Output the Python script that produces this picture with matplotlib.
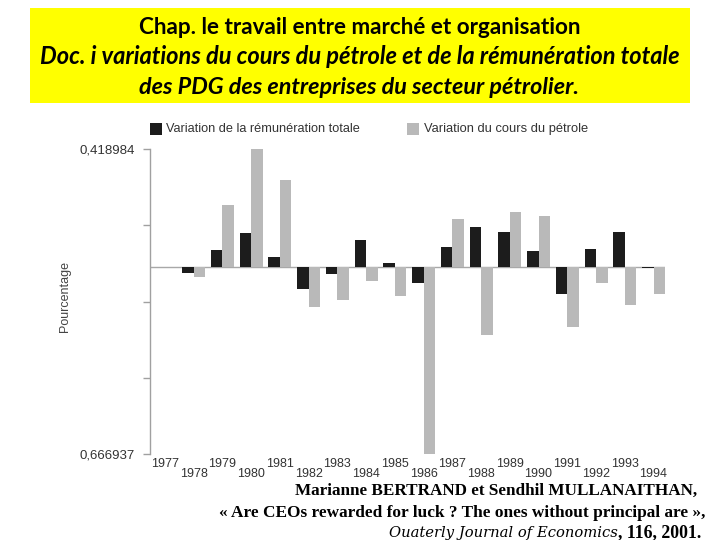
import matplotlib
matplotlib.use("Agg")
import matplotlib.pyplot as plt
from matplotlib.patches import Rectangle

years = [str(y) for y in range(1977, 1995)]
remuneration = [None, -0.024, 0.059, 0.119, 0.034, -0.079, -0.025, 0.095, 0.014, -0.057,
                0.070, 0.140, 0.124, 0.056, -0.099, 0.062, 0.125, -0.004]
petrole = [None, -0.036, 0.219, 0.419, 0.308, -0.144, -0.120, -0.050, -0.105, -0.667,
           0.171, -0.245, 0.193, 0.179, -0.216, -0.058, -0.137, -0.099]
ymax_label = "0,418984"
ymin_label = "0,666937"
ymax_val = 0.418984
ymin_val = -0.666937

W, H = 720, 540
fig = plt.figure(figsize=(7.2, 5.4), dpi=100)
fig.patch.set_facecolor("white")

def fx(px):
    return px / W

def fy(py):
    return 1 - py / H

# Title box
fig.patches.append(Rectangle((fx(30), fy(103)), fx(690) - fx(30), fy(8) - fy(103),
                             transform=fig.transFigure, facecolor="#ffff00",
                             edgecolor="none", zorder=0))
title_font = ["Lato", "DejaVu Sans"]
fig.text(fx(360), fy(27), "Chap. le travail entre marché et organisation",
         ha="center", va="center", fontsize=16.2, family=title_font, weight="bold", color="black")
fig.text(fx(360), fy(57), "Doc. i variations du cours du pétrole et de la rémunération totale",
         ha="center", va="center", fontsize=17.0, family=title_font, weight="bold",
         style="italic", color="black")
fig.text(fx(359), fy(87), "des PDG des entreprises du secteur pétrolier.",
         ha="center", va="center", fontsize=16.8, family=title_font, weight="bold",
         style="italic", color="black")

# Axes
ax_l, ax_r, ax_t, ax_b = 150, 665, 149, 454
ax = fig.add_axes([fx(ax_l), fy(ax_b), fx(ax_r) - fx(ax_l), fy(ax_t) - fy(ax_b)])
ax.set_xlim(-0.52, 17.4)
ax.set_ylim(ymin_val, ymax_val)

narrow = ["Liberation Sans", "DejaVu Sans"]
c_black = "#1c1c1c"
c_gray = "#b9b9b9"
bw = 0.4
for i in range(len(years)):
    if remuneration[i] is not None:
        ax.bar(i - 0.2, remuneration[i], width=bw, color=c_black, zorder=3)
    if petrole[i] is not None:
        ax.bar(i + 0.2, petrole[i], width=bw, color=c_gray, zorder=3)

ax.axhline(0, color="#a8a8a8", lw=1.0, zorder=2)
for s in ["top", "right", "bottom"]:
    ax.spines[s].set_visible(False)
ax.spines["left"].set_color("#a0a0a0")
ax.spines["left"].set_linewidth(1.0)

step = (ymax_val - ymin_val) / 4
ticks = [ymin_val + k * step for k in range(5)]
ax.set_yticks(ticks)
ax.set_yticklabels([ymin_label, "", "", "", ymax_label], family=narrow, fontsize=9.5, color="#333333")
ax.tick_params(axis="y", length=5, color="#a0a0a0", width=1.0, pad=6)
ax.set_xticks([])

trans = ax.get_xaxis_transform()
for i, y in enumerate(years):
    off = -10 if i % 2 == 0 else -20
    ax.annotate(y, xy=(i, 0), xycoords=trans, xytext=(0, off), textcoords="offset pixels",
                ha="center", va="center", fontsize=9, family=narrow, color="#333333",
                annotation_clip=False)

fig.text(fx(65), fy(297), "Pourcentage", rotation=90, ha="center", va="center",
         fontsize=9, family=narrow, color="#444444")

# Legend
fig.patches.append(Rectangle((fx(150), fy(135)), fx(12), 12 / H, transform=fig.transFigure,
                             facecolor=c_black, edgecolor="none"))
fig.text(fx(166), fy(129), "Variation de la rémunération totale", ha="left", va="center",
         fontsize=9.2, family=narrow, color="#333333")
fig.patches.append(Rectangle((fx(407), fy(135)), fx(12), 12 / H, transform=fig.transFigure,
                             facecolor=c_gray, edgecolor="none"))
fig.text(fx(424), fy(129), "Variation du cours du pétrole", ha="left", va="center",
         fontsize=9.3, family=narrow, color="#333333")

# Citation
serif = ["Liberation Serif", "DejaVu Serif"]
fig.text(fx(697), fy(491), "Marianne BERTRAND et Sendhil MULLANAITHAN,", ha="right", va="center",
         fontsize=12.3, family=serif, weight="bold", color="black")
fig.text(fx(705), fy(513), "« Are CEOs rewarded for luck ? The ones without principal are »,",
         ha="right", va="center", fontsize=12.45, family=serif, weight="bold", color="black")
fig.text(fx(618), fy(533), "Ouaterly Journal of Economics", ha="right", va="center",
         fontsize=10.6, family=["DejaVu Serif"], style="italic", weight="light", color="black")
fig.text(fx(618), fy(533), ", 116, 2001.", ha="left", va="center",
         fontsize=12.8, family=serif, weight="bold", color="black")

fig.savefig("out.png", dpi=100)
